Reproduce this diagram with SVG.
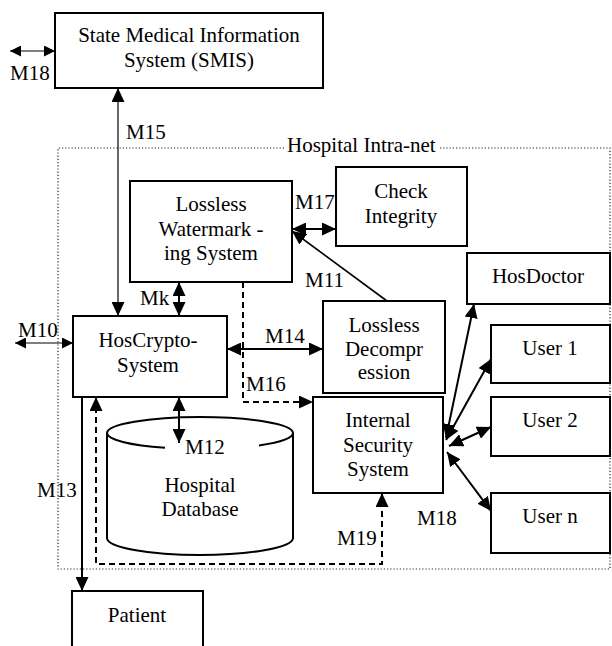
<svg xmlns="http://www.w3.org/2000/svg" width="612" height="646" viewBox="0 0 612 646" font-family="'Liberation Serif', 'Times New Roman', Times, serif">
<style>
text{font-family:'Liberation Serif','Times New Roman',Times,serif;font-size:21px;fill:#000}
.c{text-anchor:middle}
.box{fill:#fff;stroke:#000;stroke-width:2}
.ln{fill:none;stroke:#000;stroke-width:2}
.thin{fill:none;stroke:#000;stroke-width:1.2}
.dash{fill:none;stroke:#000;stroke-width:2;stroke-dasharray:6,4}
.dot{fill:none;stroke:#222;stroke-width:1.2;stroke-dasharray:1.2,2}
</style>
<defs>
<marker id="ah" viewBox="0 0 14 13" refX="14" refY="6.5" markerWidth="14" markerHeight="13" markerUnits="userSpaceOnUse" orient="auto-start-reverse">
<path d="M0,0 L14,6.5 L0,13 z" fill="#000"/>
</marker>
<marker id="as" viewBox="0 0 11 11" refX="11" refY="5.5" markerWidth="11" markerHeight="11" markerUnits="userSpaceOnUse" orient="auto-start-reverse">
<path d="M0,0 L11,5.5 L0,11 z" fill="#000"/>
</marker>
</defs>
<rect width="612" height="646" fill="#fff"/>
<g id="intranet">
<path class="dot" d="M284,148 H58 V569 H610 V148 H440"/>
<text x="287" y="152">Hospital Intra-net</text>
</g>
<g id="connectors">
<line class="thin" x1="10" y1="51" x2="55" y2="51" marker-start="url(#as)" marker-end="url(#as)"/>
<line class="thin" x1="118" y1="88" x2="118" y2="316" marker-start="url(#ah)" marker-end="url(#ah)"/>
<line class="ln" x1="179" y1="282" x2="179" y2="316" marker-start="url(#ah)" marker-end="url(#ah)"/>
<line class="thin" x1="15" y1="343" x2="73" y2="343" marker-start="url(#as)" marker-end="url(#as)"/>
<line class="ln" x1="227" y1="349" x2="323" y2="349" marker-start="url(#ah)" marker-end="url(#ah)"/>
<path class="dash" d="M243,282 V402 H313" marker-end="url(#ah)"/>
<line class="ln" x1="292" y1="229" x2="336" y2="229" marker-start="url(#ah)" marker-end="url(#ah)"/>
<line class="ln" x1="387" y1="301" x2="292" y2="231" style="stroke-width:1.6" marker-end="url(#ah)"/>
<line class="ln" x1="179" y1="397" x2="179" y2="443" marker-start="url(#ah)" marker-end="url(#ah)"/>
<line class="ln" x1="82" y1="397" x2="82" y2="591" marker-end="url(#ah)"/>
<path class="dash" d="M96,397 V564 H382 V493" marker-start="url(#ah)" marker-end="url(#ah)"/>
<line class="ln" x1="446" y1="438" x2="474" y2="304" marker-start="url(#ah)" marker-end="url(#ah)"/>
<line class="ln" x1="446" y1="440" x2="491" y2="359" marker-start="url(#ah)" marker-end="url(#ah)"/>
<line class="ln" x1="449" y1="446" x2="491" y2="427" marker-start="url(#ah)" marker-end="url(#ah)"/>
<line class="ln" x1="447" y1="452" x2="491" y2="511" marker-start="url(#ah)" marker-end="url(#ah)"/>
</g>
<g id="labels">
<text x="10" y="80">M18</text>
<text x="126" y="139">M15</text>
<text x="140" y="305">Mk</text>
<text x="18" y="337">M10</text>
<text x="265" y="343">M14</text>
<text x="246" y="391">M16</text>
<text x="295" y="209">M17</text>
<text x="305" y="287">M11</text>
<text x="185" y="454">M12</text>
<text x="37" y="497">M13</text>
<text x="337" y="545">M19</text>
<text x="417" y="525">M18</text>
</g>
<g id="smis">
<rect class="box" x="55" y="13" width="268" height="75"/>
<text class="c" x="189" y="42">State Medical Information</text>
<text class="c" x="189" y="67">System (SMIS)</text>
</g>
<g id="watermark">
<rect class="box" x="130" y="181" width="162" height="101"/>
<text class="c" x="211" y="211">Lossless</text>
<text class="c" x="211" y="236">Watermark -</text>
<text class="c" x="211" y="260">ing System</text>
</g>
<g id="check">
<rect class="box" x="336" y="167" width="131" height="79"/>
<text class="c" x="401" y="198">Check</text>
<text class="c" x="401" y="223">Integrity</text>
</g>
<g id="hoscrypto">
<rect class="box" x="73" y="316" width="154" height="81"/>
<text class="c" x="148" y="347">HosCrypto-</text>
<text class="c" x="148" y="372">System</text>
</g>
<g id="decomp">
<rect class="box" x="323" y="301" width="122" height="92"/>
<text class="c" x="384" y="332">Lossless</text>
<text class="c" x="384" y="356">Decompr</text>
<text class="c" x="384" y="379">ession</text>
</g>
<g id="internal">
<rect class="box" x="313" y="397" width="130" height="96"/>
<text class="c" x="378" y="427">Internal</text>
<text class="c" x="378" y="452">Security</text>
<text class="c" x="378" y="476">System</text>
</g>
<g id="hosdoctor">
<rect class="box" x="467" y="253" width="143" height="51"/>
<text class="c" x="538" y="283">HosDoctor</text>
</g>
<g id="user1">
<rect class="box" x="491" y="325" width="119" height="58"/>
<text class="c" x="550" y="355">User 1</text>
</g>
<g id="user2">
<rect class="box" x="491" y="397" width="119" height="59"/>
<text class="c" x="550" y="427">User 2</text>
</g>
<g id="usern">
<rect class="box" x="491" y="493" width="119" height="60"/>
<text class="c" x="550" y="523">User n</text>
</g>
<g id="database">
<path class="ln" fill="#fff" d="M107,433 V538 A93,17 0 0 0 293,538 V433"/>
<path class="ln" d="M107,433 A93,16 0 0 1 293,433"/>
<path class="ln" d="M107,433 A93,16 0 0 0 165,447.8"/>
<path class="ln" d="M259,445.4 A93,16 0 0 0 293,433"/>
<text class="c" x="200" y="492">Hospital</text>
<text class="c" x="200" y="516">Database</text>
</g>
<g id="patient">
<rect class="box" x="72" y="591" width="131" height="70"/>
<text class="c" x="137" y="622">Patient</text>
</g>
</svg>
